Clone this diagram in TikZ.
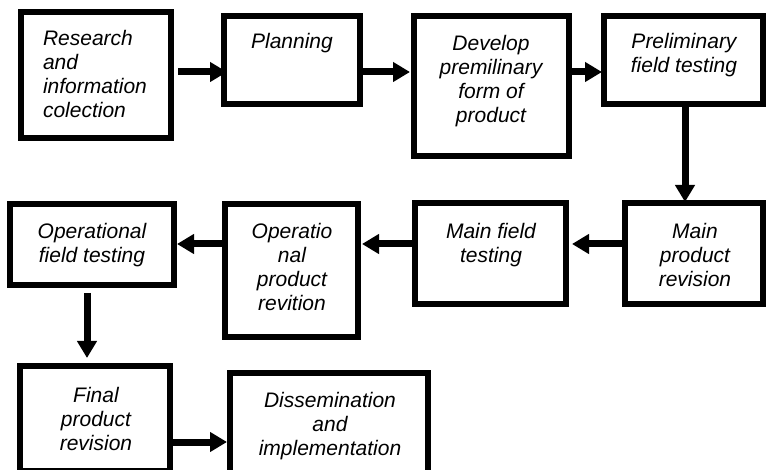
\documentclass[tikz,border=0pt]{standalone}
\usepackage{fontspec}
\setmainfont{Liberation Sans}
\usetikzlibrary{arrows.meta,calc}
\tikzset{
  box/.style={draw=black, line width=6pt, inner sep=0pt, outer sep=0pt, fill=white},
  txt/.style={inner sep=0pt, outer sep=0pt, anchor=north, align=center,
     font=\fontsize{21}{24}\selectfont\itshape},
  arr/.style={line width=7pt, -{Triangle[length=17pt,width=19pt]}}
}
\begin{document}
\begin{tikzpicture}[x=1pt,y=-1pt]
\useasboundingbox (0,0) rectangle (766,470);
\clip (0,0) rectangle (766,470);
\fill[white] (0,0) rectangle (766,470);
% boxes
\node[box, minimum width=150pt, minimum height=126pt] (b1) at (95.5,75) {};
\node[box, minimum width=136pt, minimum height=88pt] (b2) at (291.5,60) {};
\node[box, minimum width=154.5pt, minimum height=140pt] (b3) at (491.25,86) {};
\node[box, minimum width=159pt, minimum height=88pt] (b4) at (683,60) {};
\node[box, minimum width=137.5pt, minimum height=101pt] (b5) at (693.75,253.5) {};
\node[box, minimum width=151pt, minimum height=101pt] (b6) at (490.5,253.5) {};
\node[box, minimum width=132.5pt, minimum height=133.5pt] (b7) at (291.25,270.75) {};
\node[box, minimum width=163.5pt, minimum height=81.5pt] (b8) at (91.75,244.75) {};
\node[box, minimum width=150pt, minimum height=104.5pt] (b9) at (95,418.75) {};
\node[box, minimum width=198pt, minimum height=106.5pt] (b10) at (329,426.75) {};
% texts
\node[txt, anchor=north west, align=left] (t1) at (43,30) {Research\\and\\information\\colection};
\node[txt] (t2) at (292,33) {Planning};
\node[txt] (t3) at (491,35) {Develop\\premilinary\\form of\\product};
\node[txt] (t4) at (684,33) {Preliminary\\field testing};
\node[txt] (t5) at (695,223) {Main\\product\\revision};
\node[txt] (t6) at (491,223) {Main field\\testing};
\node[txt] (t7) at (292,223) {Operatio\\nal\\product\\revition};
\node[txt] (t8) at (92,223) {Operational\\field testing};
\node[txt] (t9) at (96,387) {Final\\product\\revision};
\node[txt] (t10) at (330,392) {Dissemination\\and\\implementation};
% arrows
\draw[arr] ($(b1.east)+(7.5,-3)$) -- ($(b2.west)+(3.5,12)$);
\draw[arr] ($(b2.east)+(3.5,12)$) -- ($(b3.west)+(-4,-14)$);
\draw[arr] ($(b3.east)+(3.5,-14)$) -- ($(b4.west)+(-1.5,12)$);
\draw[arr] ($(b4.south)+(2,3)$) -- ($(b5.north)+(-8.75,-1)$);
\draw[arr] ($(b5.west)+(-3,-9.5)$) -- ($(b6.east)+(6,-9.5)$);
\draw[arr] ($(b6.west)+(-3,-9.5)$) -- ($(b7.east)+(4.5,-26.75)$);
\draw[arr] ($(b7.west)+(-3,-26.75)$) -- ($(b8.east)+(3.5,-0.75)$);
\draw[arr] ($(b8.south)+(-4.75,7.5)$) -- ($(b9.north)+(-8,-8.5)$);
\draw[arr] ($(b9.east)+(3,23.25)$) -- ($(b10.west)+(-3,15.25)$);
\end{tikzpicture}
\end{document}
